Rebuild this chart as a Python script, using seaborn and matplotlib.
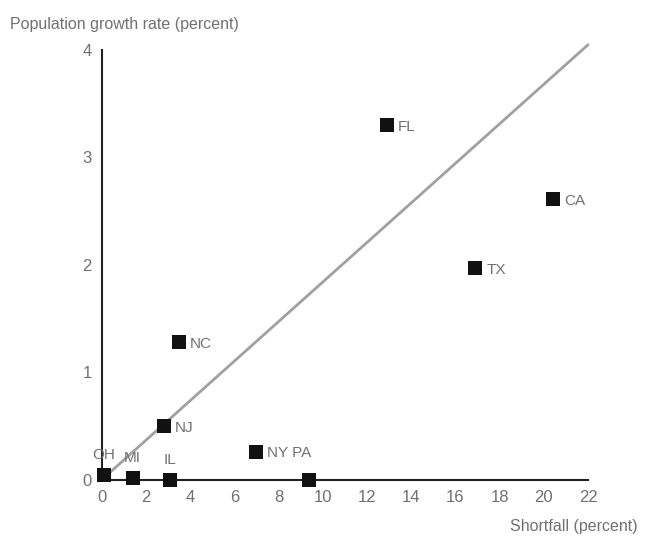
import numpy as np
import matplotlib
matplotlib.use("Agg")
import matplotlib.pyplot as plt
import seaborn as sns
import pandas as pd

# state shortfall vs population growth
states = ["OH", "MI", "IL", "NJ", "NC", "NY PA", "", "FL", "TX", "CA"]
shortfall = [0.1, 1.4, 3.1, 2.8, 3.5, 7.0, 9.4, 12.9, 16.9, 20.4]
growth = [0.05, 0.02, 0.0, 0.5, 1.28, 0.26, 0.0, 3.3, 1.97, 2.61]

# fitted line
fit_x = [0, 22]
fit_y = [0, 4.05]

x_ticks = [0, 2, 4, 6, 8, 10, 12, 14, 16, 18, 20, 22]
y_ticks = [0, 1, 2, 3, 4]

df = pd.DataFrame({"state": states, "shortfall": shortfall, "growth": growth})

sns.set_style("white")
plt.rcParams["font.family"] = ["Liberation Sans", "DejaVu Sans"]

fig = plt.figure(figsize=(6.47, 5.38), dpi=100)
ax = fig.add_axes([0.157, 0.108, 0.752, 0.799])

txt = "#707070"

ax.plot(fit_x, fit_y, color="#a0a0a0", linewidth=2, zorder=1, clip_on=False)
sns.scatterplot(data=df, x="shortfall", y="growth", marker="s", s=100,
                color="#111111", edgecolor="#111111", linewidth=0,
                ax=ax, zorder=3, clip_on=False, legend=False)

above = {"OH", "MI", "IL"}
for name, x, y in zip(states, shortfall, growth):
    if not name:
        continue
    if name in above:
        ax.annotate(name, (x, y), xytext=(0, 14), textcoords="offset points",
                    ha="center", va="center", fontsize=11, color=txt)
    else:
        ax.annotate(name, (x, y), xytext=(8, -1), textcoords="offset points",
                    ha="left", va="center", fontsize=11, color=txt)

ax.set_xlim(0, 22)
ax.set_ylim(0, 4)
ax.set_xticks(x_ticks)
ax.set_yticks(y_ticks)
ax.tick_params(direction="in", length=6, width=1.2, colors="#222222",
               labelcolor=txt, labelsize=12, pad=7)
for side in ["top", "right"]:
    ax.spines[side].set_visible(False)
for side in ["left", "bottom"]:
    ax.spines[side].set_color("#222222")
    ax.spines[side].set_linewidth(1.5)
ax.set_xlabel("")
ax.set_ylabel("")

fig.text(0.015, 0.955, "Population growth rate (percent)", fontsize=11.5,
         color=txt, ha="left", va="center")
fig.text(0.985, 0.022, "Shortfall (percent)", fontsize=11.5,
         color=txt, ha="right", va="center")

fig.savefig("out.png", dpi=100, facecolor="white")
